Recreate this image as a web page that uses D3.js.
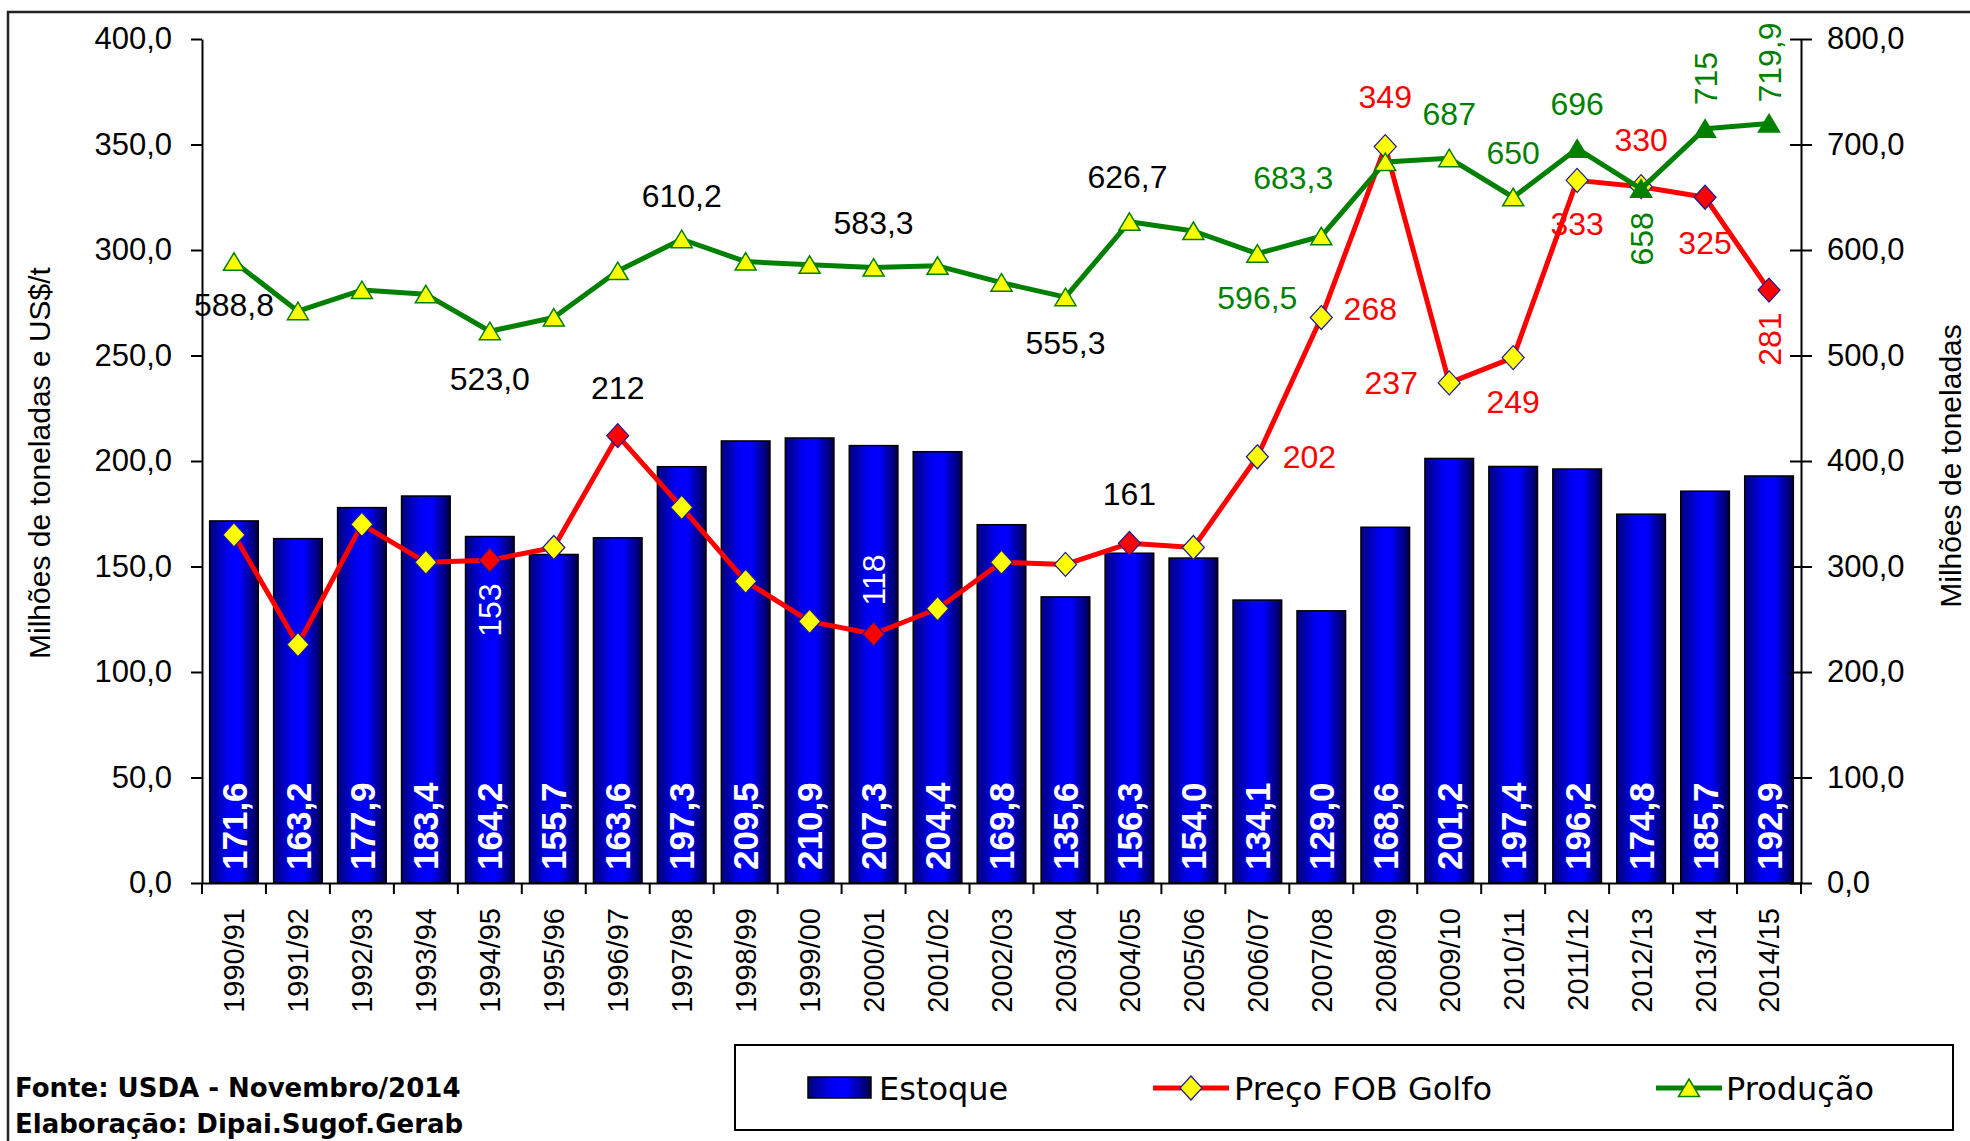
<!DOCTYPE html>
<html>
<head>
<meta charset="utf-8">
<script src="https://cdn.jsdelivr.net/npm/d3@7"></script>
<style>
    body { margin: 0; background: #fff; }
    svg text { font-family: "Liberation Sans", Arial, sans-serif; }
</style>
</head>
<body>
<div id="chart"></div>
<script>
// safras, estoque (barras, eixo esq.), preço FOB (eixo esq.), produção (eixo dir.)
var seasons = ["1990/91", "1991/92", "1992/93", "1993/94", "1994/95", "1995/96", "1996/97",
    "1997/98", "1998/99", "1999/00", "2000/01", "2001/02", "2002/03", "2003/04", "2004/05",
    "2005/06", "2006/07", "2007/08", "2008/09", "2009/10", "2010/11", "2011/12", "2012/13",
    "2013/14", "2014/15"];

var estoque = [171.6, 163.2, 177.9, 183.4, 164.2, 155.7, 163.6, 197.3, 209.5, 210.9, 207.3,
    204.4, 169.8, 135.6, 156.3, 154.0, 134.1, 129.0, 168.6, 201.2, 197.4, 196.2, 174.8, 185.7, 192.9];

var precoFob = [165, 113, 170, 152, 153, 159, 212, 178, 143, 124, 118, 130, 152, 151, 161,
    159, 202, 268, 349, 237, 249, 333, 330, 325, 281];

var producao = [588.8, 542, 562, 558, 523.0, 536, 580, 610.2, 589, 586, 583.3, 585, 569,
    555.3, 626.7, 618, 596.5, 613, 683.3, 687, 650, 696, 658, 715, 719.9];

var leftTicks = [0, 50, 100, 150, 200, 250, 300, 350, 400];
var rightTicks = [0, 100, 200, 300, 400, 500, 600, 700, 800];

// marcadores destacados
var redDiamonds = [4, 6, 10, 14, 23, 24];
var greenTriangles = [21, 22, 23, 24];

// rótulos: índice, casas decimais, deslocamento, rotação, cor
var precoLabels = [
    {i: 4, dx: 0, dy: 50, rot: true, color: "#fff"},
    {i: 6, dx: 0, dy: -48, color: "#000"},
    {i: 10, dx: 0, dy: -54, rot: true, color: "#fff"},
    {i: 14, dx: 0, dy: -50, color: "#000"},
    {i: 16, dx: 52, dy: 0, color: "#ff0000"},
    {i: 17, dx: 49, dy: -9, color: "#ff0000"},
    {i: 18, dx: 0, dy: -50, color: "#ff0000"},
    {i: 19, dx: -58, dy: 0, color: "#ff0000"},
    {i: 20, dx: 0, dy: 44, color: "#ff0000"},
    {i: 21, dx: 0, dy: 43, color: "#ff0000"},
    {i: 22, dx: 0, dy: -47, color: "#ff0000"},
    {i: 23, dx: 0, dy: 45, color: "#ff0000"},
    {i: 24, dx: 0, dy: 49, rot: true, color: "#ff0000"}
];

var producaoLabels = [
    {i: 0, dec: 1, dx: 0, dy: 43, color: "#000"},
    {i: 4, dec: 1, dx: 0, dy: 47, color: "#000"},
    {i: 7, dec: 1, dx: 0, dy: -44, color: "#000"},
    {i: 10, dec: 1, dx: 0, dy: -45, color: "#000"},
    {i: 13, dec: 1, dx: 0, dy: 45, color: "#000"},
    {i: 14, dec: 1, dx: -2, dy: -45, color: "#000"},
    {i: 16, dec: 1, dx: 0, dy: 44, color: "#008000"},
    {i: 18, dec: 1, dx: -92, dy: 15, color: "#008000"},
    {i: 19, dec: 0, dx: 0, dy: -45, color: "#008000"},
    {i: 20, dec: 0, dx: 0, dy: -45, color: "#008000"},
    {i: 21, dec: 0, dx: 0, dy: -45, color: "#008000"},
    {i: 22, dec: 0, dx: 0, dy: 50, rot: true, color: "#008000"},
    {i: 23, dec: 0, dx: 0, dy: -50, rot: true, color: "#008000"},
    {i: 24, dec: 1, dx: 0, dy: -61, rot: true, color: "#008000"}
];

var width = 1970, height = 1141;
var plot = {left: 202, right: 1801, top: 39, bottom: 883};

var br = d3.formatLocale({decimal: ",", thousands: ".", grouping: [3], currency: ["", ""]});
var f1 = br.format(".1f"), f0 = br.format(".0f");

var svg = d3.select("#chart").append("svg")
    .attr("width", width)
    .attr("height", height);

// gradiente das barras
var grad = svg.append("defs").append("linearGradient")
    .attr("id", "barGrad")
    .attr("x1", 0).attr("x2", 1).attr("y1", 0).attr("y2", 0);
grad.append("stop").attr("offset", "0%").attr("stop-color", "#00007a");
grad.append("stop").attr("offset", "38%").attr("stop-color", "#0000f5");
grad.append("stop").attr("offset", "62%").attr("stop-color", "#0000ff");
grad.append("stop").attr("offset", "100%").attr("stop-color", "#000048");

// moldura
svg.append("rect")
    .attr("x", 8).attr("y", 12)
    .attr("width", 1990).attr("height", 1160)
    .attr("fill", "none")
    .attr("stroke", "#222")
    .attr("stroke-width", 2.5);

var x = d3.scaleBand()
    .domain(seasons)
    .range([plot.left, plot.right])
    .paddingInner(0.24)
    .paddingOuter(0.12);

var yLeft = d3.scaleLinear().domain([0, 400]).range([plot.bottom, plot.top]);
var yRight = d3.scaleLinear().domain([0, 800]).range([plot.bottom, plot.top]);

function cx(i) {
    return x(seasons[i]) + x.bandwidth() / 2;
}

// barras de estoque
svg.append("g").selectAll("rect")
    .data(estoque)
    .enter().append("rect")
    .attr("x", function (d, i) { return x(seasons[i]); })
    .attr("y", function (d) { return yLeft(d); })
    .attr("width", x.bandwidth())
    .attr("height", function (d) { return yLeft(0) - yLeft(d); })
    .attr("fill", "url(#barGrad)")
    .attr("stroke", "#000")
    .attr("stroke-width", 1.5);

svg.append("g").selectAll("text")
    .data(estoque)
    .enter().append("text")
    .attr("transform", function (d, i) {
        return "translate(" + cx(i) + "," + (plot.bottom - 13) + ") rotate(-90)";
    })
    .attr("dy", "0.36em")
    .attr("fill", "#fff")
    .style("font-size", "35px")
    .style("font-weight", "bold")
    .text(function (d) { return f1(d); });

// eixos
var axisL = svg.append("g")
    .attr("transform", "translate(" + plot.left + ",0)")
    .call(d3.axisLeft(yLeft).tickValues(leftTicks).tickSize(11).tickSizeOuter(0).tickPadding(19).tickFormat(f1));

var axisR = svg.append("g")
    .attr("transform", "translate(" + plot.right + ",0)")
    .call(d3.axisRight(yRight).tickValues(rightTicks).tickSize(11).tickSizeOuter(0).tickPadding(15).tickFormat(f1));
axisR.selectAll(".tick line").attr("x1", -11);

[axisL, axisR].forEach(function (a) {
    a.selectAll("path, line").attr("stroke", "#000").attr("stroke-width", 2);
    a.selectAll("text").style("font-size", "31px").attr("fill", "#000");
});

var axisB = svg.append("g")
    .attr("transform", "translate(0," + plot.bottom + ")")
    .call(d3.axisBottom(x).tickSize(0).tickSizeOuter(0));
axisB.select(".domain").attr("stroke", "#000").attr("stroke-width", 2);
axisB.selectAll(".tick text")
    .attr("transform", "rotate(-90)")
    .attr("x", -25).attr("y", 0)
    .attr("dy", "0.36em")
    .style("text-anchor", "end")
    .style("font-size", "29px")
    .attr("fill", "#000");

// marcas nas divisas das categorias
var bounds = seasons.map(function (s) { return x(s) - x.step() * x.paddingInner() / 2; });
bounds.push(plot.right);
axisB.selectAll(".bound")
    .data(bounds)
    .enter().append("line")
    .attr("class", "bound")
    .attr("x1", function (d) { return d; })
    .attr("x2", function (d) { return d; })
    .attr("y1", 0).attr("y2", 11)
    .attr("stroke", "#000")
    .attr("stroke-width", 2);

// linha do preço FOB
var linePreco = d3.line()
    .x(function (d, i) { return cx(i); })
    .y(function (d) { return yLeft(d); });

svg.append("path")
    .datum(precoFob)
    .attr("d", linePreco)
    .attr("fill", "none")
    .attr("stroke", "#ff0000")
    .attr("stroke-width", 5)
    .attr("stroke-linejoin", "round");

var diamond = "M0,-12L11,0L0,12L-11,0Z";
svg.append("g").selectAll("path")
    .data(precoFob)
    .enter().append("path")
    .attr("d", diamond)
    .attr("transform", function (d, i) { return "translate(" + cx(i) + "," + yLeft(d) + ")"; })
    .attr("fill", function (d, i) { return redDiamonds.indexOf(i) >= 0 ? "#ff0000" : "#ffff00"; })
    .attr("stroke", "#1a1a99")
    .attr("stroke-width", 1.2);

// linha da produção
var lineProd = d3.line()
    .x(function (d, i) { return cx(i); })
    .y(function (d) { return yRight(d); });

svg.append("path")
    .datum(producao)
    .attr("d", lineProd)
    .attr("fill", "none")
    .attr("stroke", "#008000")
    .attr("stroke-width", 5)
    .attr("stroke-linejoin", "round");

var triangle = "M0,-9L10.5,8.5L-10.5,8.5Z";
svg.append("g").selectAll("path")
    .data(producao)
    .enter().append("path")
    .attr("d", triangle)
    .attr("transform", function (d, i) { return "translate(" + cx(i) + "," + yRight(d) + ")"; })
    .attr("fill", function (d, i) { return greenTriangles.indexOf(i) >= 0 ? "#008000" : "#ffff00"; })
    .attr("stroke", "#008000")
    .attr("stroke-width", 1.5);

// rótulos de dados
function drawLabels(list, values, scale, fmt) {
    svg.append("g").selectAll("text")
        .data(list)
        .enter().append("text")
        .attr("transform", function (d) {
            var px = cx(d.i) + d.dx, py = scale(values[d.i]) + d.dy;
            return "translate(" + px + "," + py + ")" + (d.rot ? " rotate(-90)" : "");
        })
        .attr("text-anchor", "middle")
        .attr("dy", "0.36em")
        .attr("fill", function (d) { return d.color; })
        .style("font-size", "32px")
        .text(function (d) { return fmt(d, values[d.i]); });
}

drawLabels(precoLabels, precoFob, yLeft, function (d, v) { return f0(v); });
drawLabels(producaoLabels, producao, yRight, function (d, v) { return d.dec ? f1(v) : f0(v); });

// títulos dos eixos
svg.append("text")
    .attr("transform", "translate(50,463) rotate(-90)")
    .attr("text-anchor", "middle")
    .style("font-size", "30px")
    .text("Milhões de toneladas e US$/t");

svg.append("text")
    .attr("transform", "translate(1961,466) rotate(-90)")
    .attr("text-anchor", "middle")
    .style("font-size", "30px")
    .text("Milhões de toneladas");

// legenda
var legend = svg.append("g");
legend.append("rect")
    .attr("x", 735).attr("y", 1045)
    .attr("width", 1218).attr("height", 85)
    .attr("fill", "#fff")
    .attr("stroke", "#000")
    .attr("stroke-width", 2);

var ly = 1088;
legend.append("rect")
    .attr("x", 808).attr("y", ly - 11)
    .attr("width", 63).attr("height", 21)
    .attr("fill", "url(#barGrad)")
    .attr("stroke", "#000")
    .attr("stroke-width", 1.5);

legend.append("line")
    .attr("x1", 1153).attr("x2", 1229).attr("y1", ly).attr("y2", ly)
    .attr("stroke", "#ff0000").attr("stroke-width", 5);
legend.append("path")
    .attr("d", diamond)
    .attr("transform", "translate(1191," + ly + ")")
    .attr("fill", "#ffff00").attr("stroke", "#1a1a99").attr("stroke-width", 1.2);

legend.append("line")
    .attr("x1", 1656).attr("x2", 1722).attr("y1", ly).attr("y2", ly)
    .attr("stroke", "#008000").attr("stroke-width", 5);
legend.append("path")
    .attr("d", triangle)
    .attr("transform", "translate(1689," + ly + ")")
    .attr("fill", "#ffff00").attr("stroke", "#008000").attr("stroke-width", 1.5);

var legendItems = [
    {x: 879, label: "Estoque"},
    {x: 1234, label: "Preço FOB Golfo"},
    {x: 1726, label: "Produção"}
];
legend.selectAll(".lt")
    .data(legendItems)
    .enter().append("text")
    .attr("x", function (d) { return d.x; })
    .attr("y", ly)
    .attr("dy", "0.36em")
    .style("font-family", "'DejaVu Sans', sans-serif")
    .style("font-size", "32px")
    .text(function (d) { return d.label; });

// fonte
svg.append("text")
    .attr("x", 15).attr("y", 1097)
    .style("font-family", "'DejaVu Sans', sans-serif")
    .style("font-weight", "bold")
    .style("font-size", "26px")
    .text("Fonte: USDA - Novembro/2014");
svg.append("text")
    .attr("x", 15).attr("y", 1133)
    .style("font-family", "'DejaVu Sans', sans-serif")
    .style("font-weight", "bold")
    .style("font-size", "26px")
    .text("Elaboração: Dipai.Sugof.Gerab");
</script>
</body>
</html>
